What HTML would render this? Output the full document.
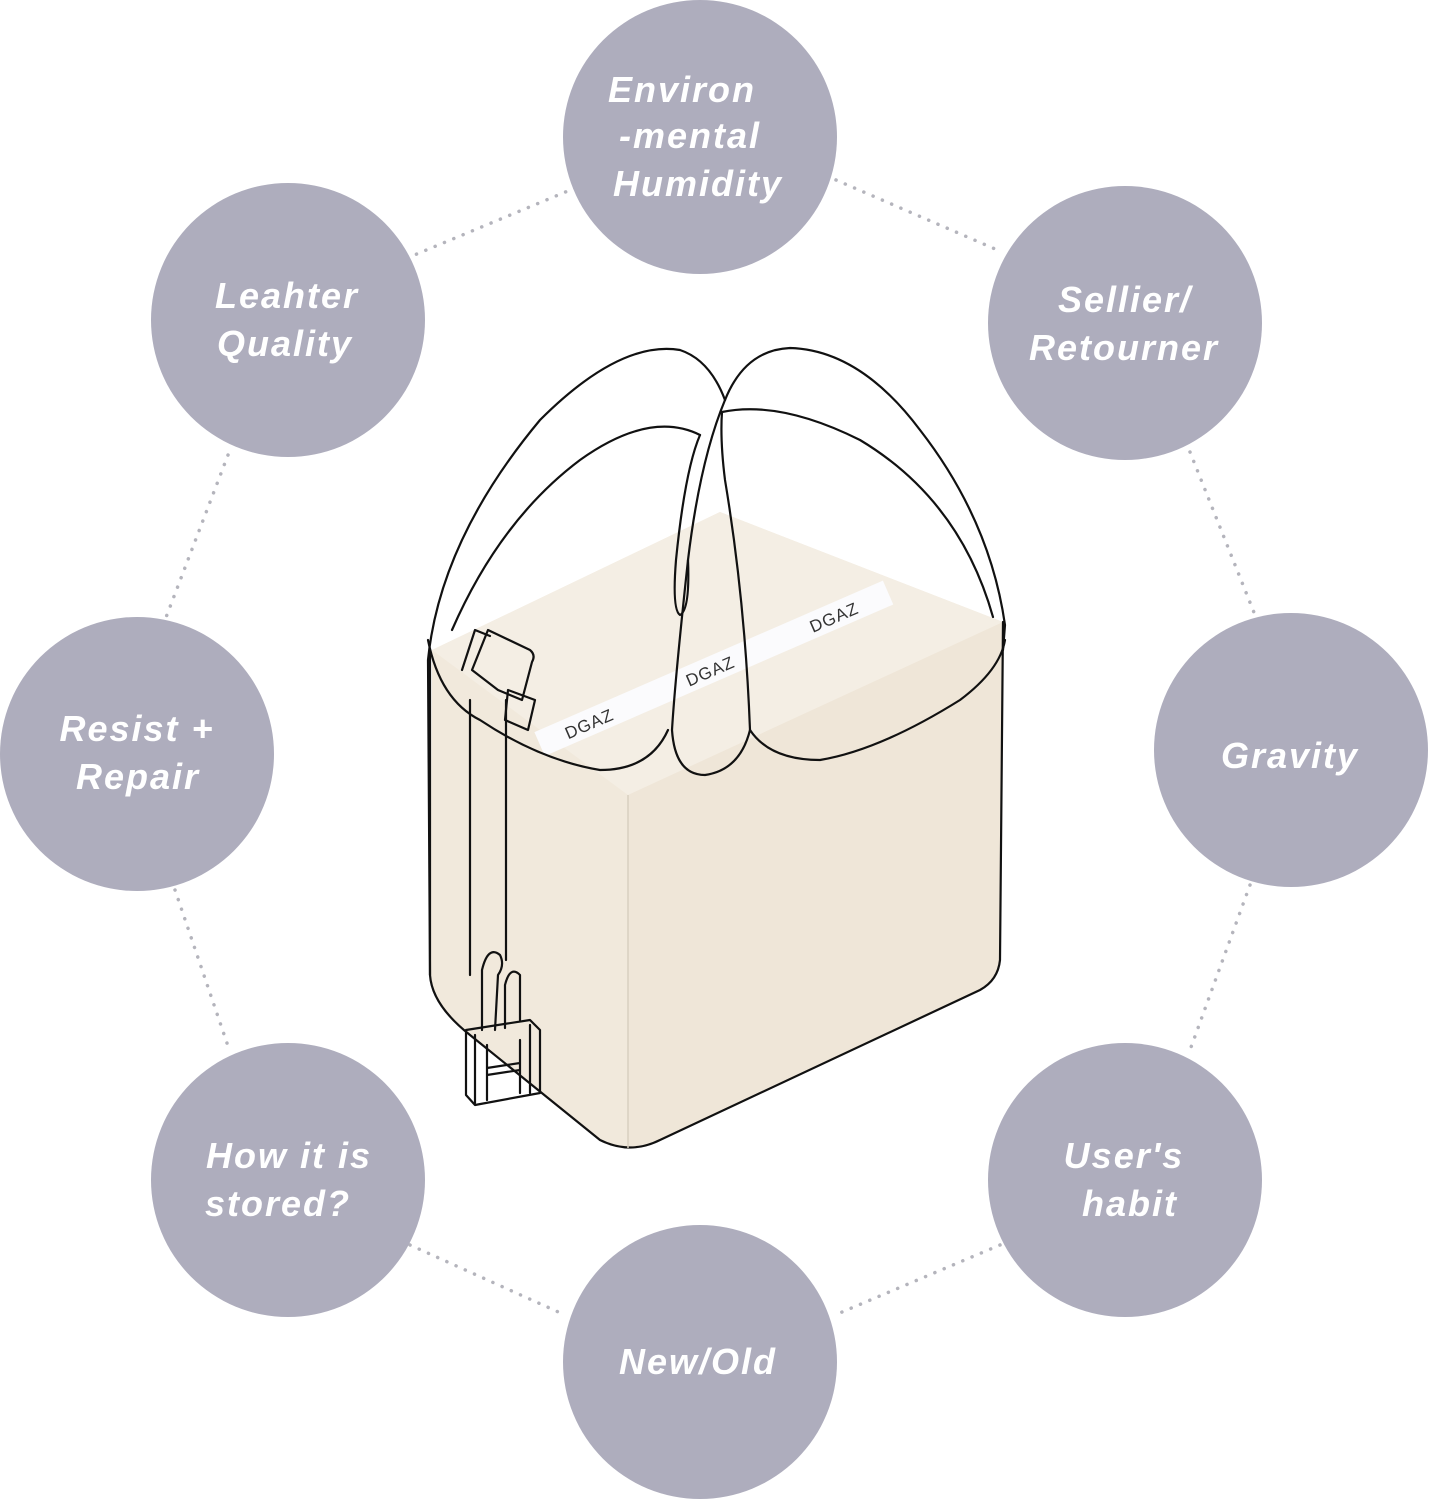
<!DOCTYPE html>
<html><head><meta charset="utf-8"><style>
html,body{margin:0;padding:0;background:#fff;}
svg{display:block}
.t{font-family:"Liberation Sans",sans-serif;font-weight:bold;font-style:italic;font-size:36px;fill:#fff;letter-spacing:2px;text-anchor:middle}
.d{stroke:#b4b4bc;stroke-width:3.5;stroke-dasharray:0.1 10;stroke-linecap:round;fill:none}
.s{fill:none;stroke:#111;stroke-width:2.2;stroke-linejoin:round;stroke-linecap:round}
</style></head><body>
<svg width="1431" height="1500" viewBox="0 0 1431 1500" xmlns="http://www.w3.org/2000/svg">
<!-- dotted connectors -->
<line class="d" x1="575" y1="188" x2="412" y2="256"/>
<line class="d" x1="836" y1="180" x2="1002" y2="252"/>
<line class="d" x1="228" y1="455" x2="165" y2="620"/>
<line class="d" x1="1190" y1="452" x2="1255" y2="615"/>
<line class="d" x1="175" y1="890" x2="230" y2="1052"/>
<line class="d" x1="1250" y1="885" x2="1190" y2="1050"/>
<line class="d" x1="410" y1="1245" x2="565" y2="1315"/>
<line class="d" x1="1000" y1="1245" x2="835" y2="1315"/>
<!-- circles -->
<g fill="#aeadbd">
<circle cx="700" cy="137" r="137"/>
<circle cx="288" cy="320" r="137"/>
<circle cx="1125" cy="323" r="137"/>
<circle cx="137" cy="754" r="137"/>
<circle cx="1291" cy="750" r="137"/>
<circle cx="288" cy="1180" r="137"/>
<circle cx="1125" cy="1180" r="137"/>
<circle cx="700" cy="1362" r="137"/>
</g>
<text class="t" x="682" y="102">Environ</text>
<text class="t" x="690" y="148">-mental</text>
<text class="t" x="698" y="196">Humidity</text>
<text class="t" x="287" y="308">Leahter</text>
<text class="t" x="285" y="356">Quality</text>
<text class="t" x="1125" y="312">Sellier/</text>
<text class="t" x="1124" y="360">Retourner</text>
<text class="t" x="137" y="741">Resist +</text>
<text class="t" x="138" y="789">Repair</text>
<text class="t" x="1290" y="768">Gravity</text>
<text class="t" x="289" y="1168">How it is</text>
<text class="t" x="278" y="1216">stored?</text>
<text class="t" x="1124" y="1168">User's</text>
<text class="t" x="1130" y="1216">habit</text>
<text class="t" x="698" y="1374">New/Old</text>
<!-- box -->
<path d="M432 650 L720 512 L1003 622 L1000 960 Q998 980 980 990 L660 1140 Q630 1155 600 1140 L470 1035 Q432 1005 430 975 Z" fill="#f1e9dc"/>
<path d="M628 790 L628 1148 L660 1140 L980 990 Q998 980 1000 960 L1003 622 Z" fill="#efe6d8"/>
<path d="M432 650 L720 512 L1003 622 L628 795 Z" fill="#f4eee4"/>
<path d="M1003 622 L1000 960 Q998 980 980 990 L660 1140 Q630 1155 600 1140 L470 1035 Q432 1005 430 975 L430 650" class="s"/>
<line x1="628" y1="795" x2="628" y2="1148" stroke="#d8cfc0" stroke-width="1.5"/>
<!-- white band -->
<g transform="translate(540,745) rotate(-23.5)">
<rect x="0" y="-14" width="380" height="26" fill="#fbfbfd"/>
<text x="28" y="6" font-family="Liberation Sans,sans-serif" font-size="17" fill="#333" letter-spacing="1">DGAZ</text>
<text x="160" y="6" font-family="Liberation Sans,sans-serif" font-size="17" fill="#333" letter-spacing="1">DGAZ</text>
<text x="295" y="6" font-family="Liberation Sans,sans-serif" font-size="17" fill="#333" letter-spacing="1">DGAZ</text>
</g>
<!-- straps -->
<path class="s" d="M430 975 L428 660 Q440 540 540 420 Q620 340 680 350 Q710 360 725 400"/>
<path class="s" d="M452 630 Q500 520 580 460 Q650 410 700 435"/>
<path class="s" d="M725 400 Q745 350 790 348 Q860 350 920 430 Q990 520 1005 625 L1003 650"/>
<path class="s" d="M722 412 Q780 400 860 440 Q960 500 993 617"/>
<path class="s" d="M428 640 Q440 700 480 720 Q540 760 600 770 Q650 770 668 730"/>
<path class="s" d="M700 435 Q685 470 676 560 Q672 610 680 615 Q690 610 688 560"/>
<path class="s" d="M725 400 Q700 460 688 560 Q675 680 672 730 Q675 775 705 775 Q740 770 750 730 Q745 600 725 480 Q720 440 722 412"/>
<path class="s" d="M750 730 Q770 760 820 760 Q880 750 960 700 Q1000 670 1005 640"/>
<!-- buckle -->
<path class="s" fill="#f1e9dc" d="M472 670 L488 630 L530 650 Q536 655 532 662 L522 700 L498 690 Z"/>
<path class="s" fill="#f1e9dc" d="M508 690 L535 700 L528 730 L505 720 Z"/>
<path class="s" d="M470 700 L470 975"/>
<path class="s" d="M506 700 L506 960"/>
<path class="s" d="M462 670 L475 630 L490 636"/>
<!-- lock -->
<path class="s" d="M482 1030 L482 970 Q488 945 500 955 Q505 965 498 975 L495 1030"/>
<path class="s" d="M505 1028 L505 985 Q510 965 520 975 L520 1020"/>
<path class="s" fill="#f1e9dc" d="M466 1030 L530 1020 L540 1030 L540 1093 L475 1105 L466 1095 Z"/>
<path class="s" d="M475 1035 L475 1103 M530 1025 L530 1093 M487 1045 L487 1100 M520 1040 L520 1093 M487 1068 L520 1063 M487 1075 L520 1070"/>
</svg>
</body></html>
